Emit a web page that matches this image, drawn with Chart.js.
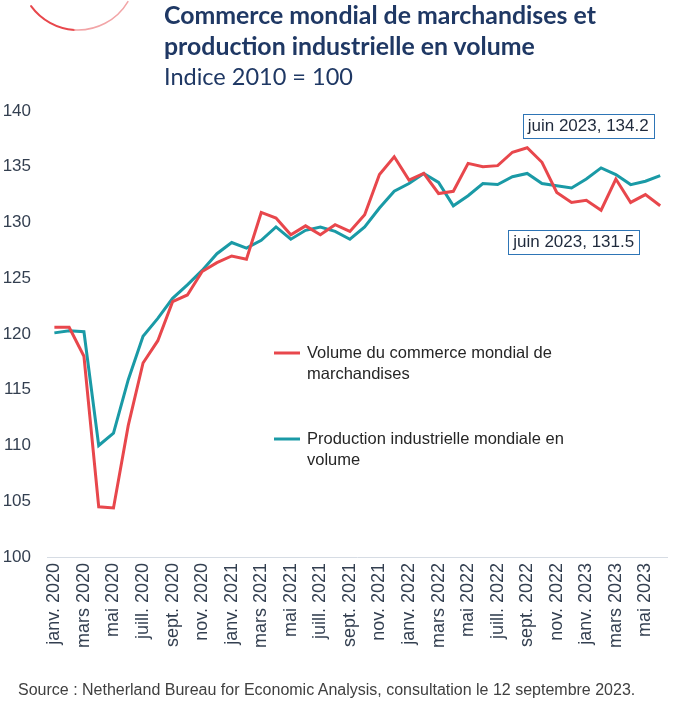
<!DOCTYPE html>
<html><head><meta charset="utf-8">
<script src="https://cdn.jsdelivr.net/npm/chart.js@4/dist/chart.umd.min.js"></script>
<style>
html,body{margin:0;padding:0;background:#fff;width:688px;height:703px;overflow:hidden;}
#wrap{position:relative;width:688px;height:703px;}
#c{position:absolute;left:0;top:0;}
.t{position:absolute;left:164px;color:#1F3864;font-family:Lato,"Open Sans",sans-serif;white-space:nowrap;line-height:30px;height:30px;}
#t1,#t2{font-weight:bold;}
#t1{top:-1px;} #t2{top:30px;} #t3{top:61px;font-weight:normal;}
#src{position:absolute;left:18px;top:680px;font-family:"Liberation Sans",Arial,sans-serif;font-size:16px;color:#404040;white-space:nowrap;line-height:20px;}
</style></head>
<body><div id="wrap">
<canvas id="c" width="688" height="703"></canvas>
<div class="t" id="t1">Commerce mondial de marchandises et</div>
<div class="t" id="t2">production industrielle en volume</div>
<div class="t" id="t3">Indice 2010 = 100</div>
<div id="src">Source : Netherland Bureau for Economic Analysis, consultation le 12 septembre 2023.</div>
</div>
<script>
const months = ["janv. 2020","févr. 2020","mars 2020","avr. 2020","mai 2020","juin 2020","juill. 2020","août 2020","sept. 2020","oct. 2020","nov. 2020","déc. 2020",
"janv. 2021","févr. 2021","mars 2021","avr. 2021","mai 2021","juin 2021","juill. 2021","août 2021","sept. 2021","oct. 2021","nov. 2021","déc. 2021",
"janv. 2022","févr. 2022","mars 2022","avr. 2022","mai 2022","juin 2022","juill. 2022","août 2022","sept. 2022","oct. 2022","nov. 2022","déc. 2022",
"janv. 2023","févr. 2023","mars 2023","avr. 2023","mai 2023","juin 2023"];
const tradeVolume = [120.6,120.6,118.0,104.5,104.4,111.8,117.4,119.4,122.9,123.5,125.6,126.4,
127.0,126.7,130.9,130.4,128.9,129.7,128.9,129.8,129.2,130.7,134.3,135.9,
133.8,134.4,132.6,132.8,135.3,135.0,135.1,136.3,136.7,135.4,132.7,131.8,
132.0,131.1,133.9,131.8,132.5,131.5];
const industrialProduction = [120.1,120.3,120.2,110.0,111.1,115.9,119.8,121.4,123.2,124.4,125.7,127.2,
128.2,127.7,128.4,129.6,128.5,129.3,129.6,129.2,128.5,129.6,131.3,132.8,
133.5,134.4,133.6,131.5,132.4,133.5,133.4,134.1,134.4,133.5,133.3,133.1,
133.9,134.9,134.3,133.4,133.7,134.2];
const seriesNames = [["Volume du commerce mondial de","marchandises"],["Production industrielle mondiale en","volume"]];
const yTicks = [100,105,110,115,120,125,130,135,140];

// fit title widths
(function(){
  const cv=document.createElement('canvas').getContext('2d');
  cv.font='bold 100px Lato';
  const w1=cv.measureText(document.getElementById('t1').textContent).width;
  const fs=100*432/w1;
  document.getElementById('t1').style.fontSize=fs+'px';
  document.getElementById('t2').style.fontSize=fs+'px';
  cv.font='100px Lato';
  const w3=cv.measureText(document.getElementById('t3').textContent).width;
  document.getElementById('t3').style.fontSize=(100*189/w3)+'px';
})();

const RED='#E8474C', TEAL='#1A9AA6';
const FONT='"Liberation Sans", Arial, sans-serif';

const decor = {
  id:'decor',
  beforeDraw(chart){
    const ctx=chart.ctx;
    ctx.save();
    ctx.lineCap='round';
    ctx.strokeStyle=RED; ctx.lineWidth=2;
    ctx.beginPath(); ctx.arc(78,-28,58,Math.PI*0.80,Math.PI*0.52,true); ctx.stroke();
    ctx.strokeStyle='#F2A5A7'; ctx.lineWidth=1.5;
    ctx.beginPath(); ctx.arc(78,-28,58,Math.PI*0.52,Math.PI*0.17,true); ctx.stroke();
    ctx.restore();
  },
  afterDatasetsDraw(chart){
    const ctx=chart.ctx;
    ctx.save();
    // legend
    const leg=[{c:RED,y:353},{c:TEAL,y:439}];
    ctx.font='16.5px '+FONT; ctx.fillStyle='#262626'; ctx.textBaseline='middle'; ctx.textAlign='left';
    leg.forEach((l,i)=>{
      ctx.strokeStyle=l.c; ctx.lineWidth=3;
      ctx.beginPath(); ctx.moveTo(274,l.y); ctx.lineTo(300,l.y); ctx.stroke();
      seriesNames[i].forEach((s,j)=>ctx.fillText(s,307,l.y+j*21.5));
    });
    // data labels for last points
    const last=months.length-1;
    const boxes=[{ds:1,dx:-72,dy:-50},{ds:0,dx:-86.5,dy:36}];
    ctx.font='17px '+FONT;
    boxes.forEach(b=>{
      const pt=chart.getDatasetMeta(b.ds).data[last];
      const val=chart.data.datasets[b.ds].data[last];
      const txt=months[last].replace(/\s*$/,'')+', '+val.toFixed(1);
      const w=ctx.measureText(txt).width+10, h=24;
      const cx=pt.x+b.dx, cy=pt.y+b.dy;
      ctx.fillStyle='#fff'; ctx.fillRect(cx-w/2,cy-h/2,w,h);
      ctx.strokeStyle='#2E75B6'; ctx.lineWidth=1;
      ctx.strokeRect(Math.round(cx-w/2)+0.5,Math.round(cy-h/2)+0.5,Math.round(w),h);
      ctx.fillStyle='#1F2A3C'; ctx.textAlign='center'; ctx.textBaseline='middle';
      ctx.fillText(txt,cx,cy+1);
    });
    ctx.restore();
  }
};

new Chart(document.getElementById('c'),{
  type:'line',
  data:{labels:months,datasets:[
    {label:seriesNames[0].join(' '),data:tradeVolume,borderColor:RED,backgroundColor:RED,borderWidth:3,pointRadius:0,tension:0},
    {label:seriesNames[1].join(' '),data:industrialProduction,borderColor:TEAL,backgroundColor:TEAL,borderWidth:3,pointRadius:0,tension:0}
  ]},
  options:{
    responsive:false,animation:false,
    layout:{padding:{left:0,right:18,top:111,bottom:46}},
    plugins:{legend:{display:false},tooltip:{enabled:false},title:{display:false}},
    scales:{
      x:{offset:true,
        grid:{display:false,drawTicks:false},
        border:{display:true,color:'#D6DCE4',width:1},
        ticks:{autoSkip:false,minRotation:90,maxRotation:90,padding:6,color:'#333F50',font:{family:FONT,size:18},
          callback:(v,i)=> i%2===0 ? months[i] : ''},
        afterFit(s){s.height=100;}
      },
      y:{min:100,max:140,
        grid:{display:false,drawTicks:false},
        border:{display:false},
        afterBuildTicks(s){s.ticks=yTicks.map(v=>({value:v}));},
        ticks:{padding:16,color:'#333F50',font:{family:FONT,size:17}},
        afterFit(s){s.width=47;}
      }
    }
  },
  plugins:[decor]
});
</script>
</body></html>
